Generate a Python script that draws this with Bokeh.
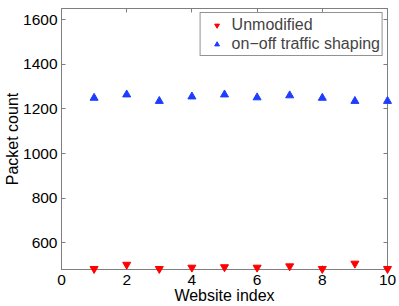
from bokeh.plotting import figure
from bokeh.models import LinearAxis, FixedTicker, Range1d, Legend, LegendItem
from bokeh.embed import file_html
from bokeh.resources import INLINE

# data
website_index = [1, 2, 3, 4, 5, 6, 7, 8, 9, 10]
unmodified = [483, 502, 483, 489, 491, 489, 495, 483, 507, 483]
onoff_shaping = [1249, 1264, 1235, 1255, 1264, 1251, 1260, 1249, 1235, 1235]
x_ticks = [0, 2, 4, 6, 8, 10]
y_ticks = [600, 800, 1000, 1200, 1400, 1600]
series_labels = ["Unmodified", "on\u2212off traffic shaping"]

FONT = "Liberation Sans"
AX = "#7f7f7f"

p = figure(frame_width=326, frame_height=261, output_backend="svg", toolbar_location=None,
           x_range=Range1d(0, 10), y_range=Range1d(480, 1650),
           min_border_left=61, min_border_right=12, min_border_top=8, min_border_bottom=37,
           x_axis_location=None, y_axis_location=None)
p.background_fill_color = "white"
p.border_fill_color = "white"
p.outline_line_color = AX
p.outline_line_width = 1
p.xgrid.visible = False
p.ygrid.visible = False

def style(ax, labels=True):
    ax.axis_line_color = AX
    ax.major_tick_line_color = AX
    ax.major_tick_in = 4
    ax.major_tick_out = 0
    ax.minor_tick_line_color = None
    if labels:
        ax.major_label_text_font = FONT
        ax.major_label_text_font_size = "15.5px"
        ax.major_label_text_color = "black"
        ax.major_label_standoff = 4
        ax.axis_label_text_font = FONT
        ax.axis_label_text_font_size = "16px"
        ax.axis_label_text_font_style = "normal"
        ax.axis_label_text_color = "black"
        ax.axis_label_standoff = 0
    else:
        ax.major_label_text_font_size = "1px"
        ax.major_label_text_color = None
        ax.major_label_standoff = 0

xb = LinearAxis(ticker=FixedTicker(ticks=x_ticks), axis_label="Website index")
style(xb)
xb.major_label_standoff = 5
xb.axis_label_standoff = -1
p.add_layout(xb, "below")
yl = LinearAxis(ticker=FixedTicker(ticks=y_ticks), axis_label="Packet count")
style(yl)
yl.axis_label_standoff = -1
p.add_layout(yl, "left")
xt = LinearAxis(ticker=FixedTicker(ticks=x_ticks))
style(xt, labels=False)
p.add_layout(xt, "above")
yr = LinearAxis(ticker=FixedTicker(ticks=y_ticks))
style(yr, labels=False)
p.add_layout(yr, "right")

r1 = p.scatter(website_index, unmodified, marker="inverted_triangle", size=8,
               color="#ff0000", level="overlay")
r2 = p.scatter(website_index, onoff_shaping, marker="triangle", size=8,
               color="#1e3cff", level="overlay")

legend = Legend(items=[LegendItem(label=series_labels[0], renderers=[r1]),
                       LegendItem(label=series_labels[1], renderers=[r2])],
                location="top_right", margin=4, padding=2, spacing=0,
                glyph_width=28, glyph_height=12, label_height=19, label_standoff=1,
                label_text_font=FONT, label_text_font_size="16px",
                border_line_color="#262626", border_line_width=1,
                background_fill_color="white", background_fill_alpha=1)
p.add_layout(legend)

open("out.html", "w").write(file_html(p, INLINE))
